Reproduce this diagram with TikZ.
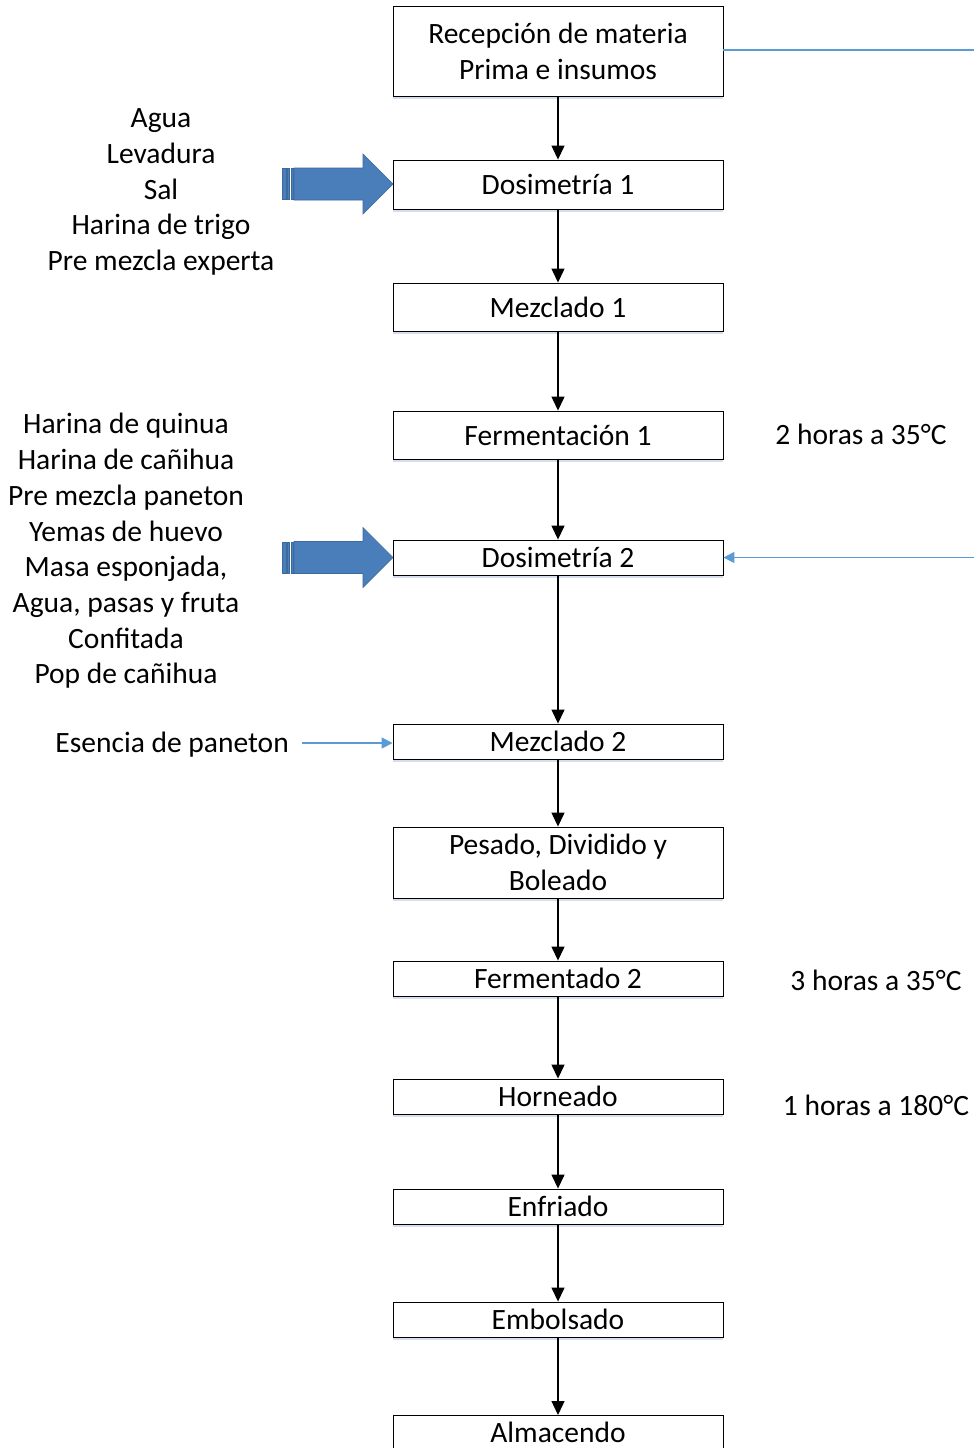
\documentclass[tikz,border=0pt]{standalone}
\usepackage{fontspec}
\setmainfont{Carlito}
\usetikzlibrary{arrows.meta,shadows}
\definecolor{boxshadow}{HTML}{C9D6E8}
\definecolor{lineblue}{HTML}{5B9BD5}
\definecolor{arrowfill}{HTML}{4A7EBB}
\definecolor{arrowedge}{HTML}{3C6A9F}
\tikzset{
  procbox/.style={draw=black, line width=0.9pt, fill=white, minimum width=330pt, inner sep=0pt, align=center,
    font=\fontsize{29.5}{36}\selectfont,
    drop shadow={shadow xshift=0pt, shadow yshift=-3pt, fill=boxshadow, opacity=0.8}},
  flow/.style={-{Triangle[length=14pt,width=13pt]}, line width=1.3pt, black},
  blueline/.style={lineblue, line width=1.6pt},
  bluearrow/.style={lineblue, line width=1.6pt, -{Triangle[length=11pt,width=11pt]}},
  lbl/.style={font=\fontsize{29.5}{35.7}\selectfont, align=center, inner sep=0pt},
  bigarrow/.style={fill=arrowfill, draw=arrowedge, line width=0.6pt},
}
\newcommand{\blockarrow}[1]{%
  \begin{scope}[shift={(0,#1)}]
    \filldraw[bigarrow] (282,-15.5) rectangle (286,15.5);
    \filldraw[bigarrow] (287.5,-15.5) rectangle (289.5,15.5);
    \filldraw[bigarrow] (291,-15.5) rectangle (293,15.5);
    \filldraw[bigarrow] (294,-16) -- (363,-16) -- (363,-30) -- (393,0) -- (363,30) -- (363,16) -- (294,16) -- cycle;
  \end{scope}}
\begin{document}
\begin{tikzpicture}[x=1pt,y=-1pt]
\useasboundingbox (0,0) rectangle (974,1448);
% boxes (center x 558)
\node[procbox, minimum height=90pt] (b1) at (558,51) {Recepción de materia\\Prima e insumos};
\node[procbox, minimum height=49pt] (b2) at (558,184.5) {Dosimetría 1};
\node[procbox, minimum height=48pt] (b3) at (558,307) {Mezclado 1};
\node[procbox, minimum height=48pt] (b4) at (558,435) {Fermentación 1};
\node[procbox, minimum height=35pt] (b5) at (558,557.5) {Dosimetría 2};
\node[procbox, minimum height=35pt] (b6) at (558,741.5) {Mezclado 2};
\node[procbox, minimum height=71pt] (b7) at (558,862.5) {Pesado, Dividido y\\Boleado};
\node[procbox, minimum height=35pt] (b8) at (558,978.5) {Fermentado 2};
\node[procbox, minimum height=35pt] (b9) at (558,1096.5) {Horneado};
\node[procbox, minimum height=35pt] (b10) at (558,1206.5) {Enfriado};
\node[procbox, minimum height=35pt] (b11) at (558,1319.5) {Embolsado};
\node[procbox, minimum height=34pt, anchor=north] (b12) at (558,1415) {Almacendo};
% flow arrows
\draw[flow] (b1) -- (b2);
\draw[flow] (b2) -- (b3);
\draw[flow] (b3) -- (b4);
\draw[flow] (b4) -- (b5);
\draw[flow] (b5) -- (b6);
\draw[flow] (b6) -- (b7);
\draw[flow] (b7) -- (b8);
\draw[flow] (b8) -- (b9);
\draw[flow] (b9) -- (b10);
\draw[flow] (b10) -- (b11);
\draw[flow] (b11) -- (b12);
% blue lines on the right
\coordinate (r1) at (974,50);
\coordinate (r2) at (974,557.5);
\draw[blueline] (b1.east |- r1) -- (r1);
\draw[bluearrow] (r2) -- (b5.east);
% left inputs
\node[lbl] (in1) at (161,192) {Agua\\Levadura\\Sal\\Harina de trigo\\Pre mezcla experta};
\node[lbl] (in2) at (126,551) {Harina de quinua\\Harina de cañihua\\Pre mezcla paneton\\Yemas de huevo\\Masa esponjada,\\Agua, pasas y fruta\\Confitada\\Pop de cañihua};
\node[lbl, anchor=east] (in3) at (289,745) {Esencia de paneton};
\coordinate (e3) at (302,743);
\draw[bluearrow] (e3) -- (b6.west |- e3);
\blockarrow{184}
\blockarrow{557.5}
% right notes
\node[lbl] (n1) at (861,434) {2 horas a 35°C};
\node[lbl] (n2) at (876,980) {3 horas a 35°C};
\node[lbl] (n3) at (876,1105) {1 horas a 180°C};
\end{tikzpicture}
\end{document}
